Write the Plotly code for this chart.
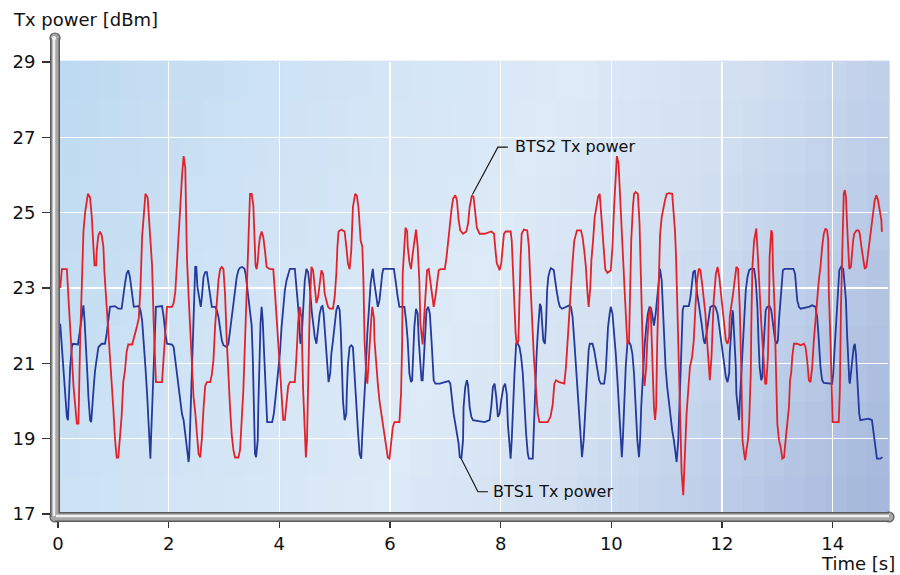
import plotly.graph_objects as go

# ---------------- data ----------------
time_bts2 = [0.04, 0.07, 0.16, 0.19, 0.24, 0.28, 0.34, 0.37, 0.40, 0.43, 0.46, 0.49, 0.54, 0.58, 0.61, 0.64, 0.66, 0.69, 0.70, 0.73,
             0.76, 0.79, 0.82, 0.84, 0.88, 0.91, 0.96, 1.00, 1.03, 1.06, 1.09, 1.12, 1.15, 1.18, 1.21, 1.24, 1.27, 1.34, 1.40, 1.43,
             1.46, 1.49, 1.52, 1.55, 1.58, 1.62, 1.65, 1.68, 1.70, 1.73, 1.76, 1.77, 1.88, 1.91, 1.94, 1.97, 2.06, 2.09, 2.12, 2.15,
             2.18, 2.21, 2.24, 2.27, 2.30, 2.31, 2.33, 2.36, 2.39, 2.42, 2.45, 2.48, 2.51, 2.54, 2.57, 2.60, 2.63, 2.66, 2.69, 2.75,
             2.78, 2.81, 2.84, 2.87, 2.90, 2.93, 2.96, 2.99, 3.02, 3.05, 3.08, 3.11, 3.14, 3.17, 3.20, 3.26, 3.29, 3.32, 3.35, 3.38,
             3.41, 3.44, 3.47, 3.50, 3.53, 3.55, 3.57, 3.59, 3.61, 3.63, 3.65, 3.68, 3.71, 3.74, 3.77, 3.83, 3.89, 3.92, 3.95, 3.98,
             4.01, 4.04, 4.07, 4.10, 4.13, 4.16, 4.19, 4.28, 4.31, 4.34, 4.37, 4.40, 4.43, 4.46, 4.48, 4.50, 4.52, 4.55, 4.58, 4.61,
             4.64, 4.67, 4.70, 4.73, 4.76, 4.79, 4.82, 4.85, 4.88, 4.91, 4.97, 5.00, 5.03, 5.05, 5.07, 5.12, 5.18, 5.21, 5.24, 5.27,
             5.30, 5.33, 5.37, 5.40, 5.43, 5.47, 5.50, 5.52, 5.54, 5.57, 5.59, 5.60, 5.63, 5.66, 5.68, 5.71, 5.72, 5.75, 5.78, 5.81,
             5.84, 5.87, 5.90, 5.93, 5.96, 5.99, 6.02, 6.05, 6.08, 6.17, 6.20, 6.22, 6.23, 6.25, 6.28, 6.31, 6.32, 6.35, 6.38, 6.41,
             6.44, 6.47, 6.50, 6.53, 6.55, 6.58, 6.59, 6.61, 6.64, 6.67, 6.70, 6.73, 6.76, 6.79, 6.82, 6.85, 6.88, 6.91, 6.99, 7.02,
             7.05, 7.08, 7.11, 7.14, 7.18, 7.21, 7.24, 7.27, 7.32, 7.38, 7.41, 7.44, 7.48, 7.51, 7.54, 7.57, 7.62, 7.71, 7.83, 7.88,
             7.90, 7.93, 7.96, 7.98, 8.01, 8.04, 8.06, 8.09, 8.18, 8.20, 8.22, 8.25, 8.27, 8.29, 8.32, 8.34, 8.36, 8.38, 8.42, 8.48,
             8.51, 8.53, 8.56, 8.60, 8.64, 8.67, 8.70, 8.85, 8.90, 8.94, 8.97, 9.00, 9.06, 9.15, 9.18, 9.21, 9.24, 9.27, 9.30, 9.33,
             9.38, 9.45, 9.48, 9.51, 9.54, 9.57, 9.59, 9.62, 9.64, 9.67, 9.70, 9.73, 9.76, 9.79, 9.81, 9.84, 9.87, 9.89, 9.93, 9.99,
             10.02, 10.05, 10.08, 10.10, 10.13, 10.15, 10.18, 10.22, 10.24, 10.27, 10.29, 10.32, 10.34, 10.36, 10.39, 10.41, 10.44,
             10.48, 10.51, 10.53, 10.55, 10.58, 10.60, 10.63, 10.65, 10.68, 10.71, 10.73, 10.75, 10.77, 10.79, 10.81, 10.83, 10.86,
             10.88, 10.91, 10.94, 10.97, 11.00, 11.04, 11.10, 11.12, 11.15, 11.17, 11.19, 11.22, 11.25, 11.27, 11.30, 11.31, 11.34,
             11.36, 11.39, 11.42, 11.46, 11.49, 11.52, 11.55, 11.58, 11.61, 11.64, 11.67, 11.70, 11.73, 11.76, 11.78, 11.81, 11.83,
             11.85, 11.89, 11.92, 11.95, 11.98, 12.01, 12.04, 12.07, 12.10, 12.13, 12.14, 12.17, 12.20, 12.23, 12.26, 12.29, 12.32,
             12.35, 12.37, 12.40, 12.42, 12.44, 12.47, 12.49, 12.52, 12.53, 12.55, 12.58, 12.61, 12.62, 12.65, 12.68, 12.71, 12.73,
             12.76, 12.78, 12.80, 12.83, 12.85, 12.86, 12.89, 12.91, 12.92, 12.95, 12.97, 13.00, 13.03, 13.06, 13.09, 13.12, 13.15,
             13.18, 13.21, 13.23, 13.25, 13.27, 13.30, 13.36, 13.42, 13.48, 13.51, 13.54, 13.57, 13.60, 13.63, 13.66, 13.69, 13.72,
             13.75, 13.78, 13.81, 13.84, 13.87, 13.90, 13.92, 13.93, 13.96, 13.98, 14.00, 14.11, 14.13, 14.15, 14.18, 14.20, 14.22,
             14.24, 14.26, 14.28, 14.30, 14.33, 14.35, 14.37, 14.39, 14.43, 14.47, 14.49, 14.52, 14.55, 14.58, 14.61, 14.64, 14.67,
             14.70, 14.73, 14.76, 14.79, 14.82, 14.85, 14.88, 14.89]
power_bts2 = [23.0, 23.5, 23.5, 22.7, 21.2, 20.4, 19.4, 19.4, 21.6, 23.4, 24.5, 25.0, 25.5, 25.4, 24.9, 24.1, 23.6, 23.6, 24.0, 24.4,
              24.5, 24.4, 24.1, 23.4, 22.5, 21.8, 20.9, 19.8, 19.0, 18.5, 18.5, 19.0, 19.6, 20.5, 20.8, 21.3, 21.5, 21.5, 21.8, 22.0,
              22.2, 23.0, 24.35, 24.9, 25.5, 25.4, 24.8, 24.0, 23.6, 22.05, 20.7, 20.5, 20.5, 21.2, 21.6, 22.5, 22.5, 22.6, 22.9, 23.56,
              24.5, 25.15, 25.95, 26.5, 26.2, 25.3, 23.8, 22.8, 21.8, 20.7, 20.1, 19.7, 19.1, 18.6, 18.5, 19.0, 19.8, 20.4, 20.5, 20.5,
              20.7, 21.1, 22.0, 22.7, 23.2, 23.5, 23.56, 23.5, 22.8, 21.6, 20.5, 19.8, 19.1, 18.7, 18.5, 18.5, 18.7, 19.4, 20.3, 21.6,
              22.9, 24.7, 25.5, 25.5, 25.2, 24.4, 23.6, 23.5, 23.7, 24.1, 24.35, 24.5, 24.35, 24.0, 23.56, 23.5, 23.5, 22.9, 22.2, 21.4,
              20.7, 20.1, 19.5, 19.5, 20.0, 20.4, 20.5, 20.5, 21.2, 22.1, 22.5, 22.2, 20.3, 18.96, 18.5, 18.96, 20.7, 22.5, 23.56, 23.47,
              23.03, 22.6, 22.76, 23.2, 23.47, 23.38, 22.85, 22.67, 22.5, 22.45, 22.45, 22.76, 23.38, 24.1, 24.5, 24.55, 24.5, 24.1, 23.65, 23.5,
              24.0, 25.15, 25.5, 25.46, 25.15, 24.26, 24.1, 23.2, 21.6, 20.7, 20.46, 20.7, 21.6, 22.15, 22.5, 22.2, 21.6, 20.9, 20.46, 20.0,
              19.67, 19.4, 19.13, 18.78, 18.5, 18.47, 18.96, 19.3, 19.44, 19.44, 20.2, 21.6, 23.4, 23.8, 24.6, 24.5, 24.1, 23.7, 23.5, 23.9,
              24.3, 24.55, 24.1, 23.2, 22.05, 21.6, 21.5, 22.05, 22.9, 23.47, 23.5, 23.2, 22.85, 22.5, 22.76, 23.1, 23.47, 23.5, 23.5, 23.8,
              24.26, 24.6, 25.06, 25.37, 25.46, 25.33, 24.8, 24.53, 24.44, 24.5, 24.7, 25.15, 25.46, 25.42, 24.9, 24.6, 24.44, 24.44, 24.5, 24.44,
              24.1, 23.65, 23.56, 23.47, 23.65, 24.1, 24.44, 24.5, 24.5, 24.26, 23.38, 22.5, 21.8, 21.5, 21.6, 22.9, 23.8, 24.44, 24.55, 24.53,
              24.1, 23.38, 22.32, 21.17, 20.29, 19.67, 19.44, 19.44, 19.58, 19.9, 20.46, 20.55, 20.5, 20.46, 20.9, 21.6, 22.5, 23.2, 23.7, 24.26,
              24.53, 24.53, 24.35, 24.0, 23.56, 22.85, 22.5, 23.03, 23.74, 24.26, 24.88, 25.15, 25.42, 25.5, 25.15, 24.44, 23.9, 23.5, 23.4, 23.47,
              24.09, 25.15, 26.2, 26.5, 26.3, 25.6, 24.7, 23.56, 22.94, 22.05, 21.5, 21.6, 22.94, 24.26, 25.15, 25.5, 25.55,
              25.5, 24.7, 23.38, 22.05, 20.7, 20.4, 20.9, 21.6, 22.3, 22.5, 21.6, 20.55, 19.84, 19.5, 19.84, 21.6, 23.38,
              24.4, 24.88, 25.15, 25.33, 25.5, 25.52, 25.5, 25.15, 24.53, 23.82, 22.67, 21.17, 19.4, 18.1, 17.5, 17.98, 18.96,
              19.67, 20.29, 20.9, 21.17, 21.61, 22.5, 23.21, 23.51, 23.47, 23.12, 22.67, 22.32, 21.61, 20.9, 20.55, 21.17, 21.96,
              22.67, 23.38, 23.56, 23.3, 22.85, 22.5, 22.05, 21.61, 21.52, 21.7, 22.23, 22.5, 22.85, 23.21, 23.56, 23.51, 22.5,
              20.73, 18.96, 18.6, 18.43, 18.69, 18.96, 19.4, 20.73, 22.05, 23.56, 24.26, 24.53, 24.58, 23.8, 22.67, 22.05, 21.61,
              20.9, 20.46, 20.46, 21.17, 22.5, 23.82, 24.53, 24.44, 23.56, 22.5, 21.17, 19.4, 18.96, 18.78, 18.47, 18.5, 18.96,
              19.4, 19.84, 20.55, 20.73, 21.17, 21.52, 21.52, 21.48, 21.52, 21.43, 21.08, 20.55, 20.5, 20.9, 21.61, 22.05, 22.67,
              23.21, 23.56, 24.09, 24.44, 24.58, 24.53, 24.26, 22.94, 21.61, 20.29, 19.44, 19.44, 20.29, 22.5, 24.7, 25.5, 25.6,
              25.42, 24.7, 23.82, 23.51, 23.56, 24.0, 24.26, 24.44, 24.53, 24.53, 24.44, 24.09, 23.74, 23.51, 23.56, 23.91, 24.26,
              24.62, 24.97, 25.33, 25.46, 25.33, 25.06, 24.8, 24.49]

time_bts1 = [0.04, 0.07, 0.10, 0.13, 0.16, 0.18, 0.20, 0.22, 0.25, 0.27, 0.36, 0.39, 0.42, 0.45, 0.46, 0.48, 0.51, 0.53, 0.55, 0.58,
             0.60, 0.63, 0.65, 0.67, 0.70, 0.73, 0.79, 0.85, 0.88, 0.91, 0.94, 1.03, 1.09, 1.15, 1.18, 1.21, 1.24, 1.27, 1.30, 1.34,
             1.37, 1.46, 1.49, 1.52, 1.55, 1.58, 1.61, 1.64, 1.65, 1.67, 1.68, 1.71, 1.74, 1.77, 1.88, 1.91, 1.94, 1.97, 2.06, 2.09,
             2.12, 2.15, 2.18, 2.21, 2.24, 2.27, 2.30, 2.33, 2.36, 2.37, 2.39, 2.42, 2.44, 2.46, 2.48, 2.50, 2.52, 2.55, 2.58, 2.60,
             2.63, 2.66, 2.69, 2.72, 2.75, 2.78, 2.84, 2.87, 2.90, 2.93, 2.96, 2.99, 3.05, 3.08, 3.11, 3.14, 3.17, 3.20, 3.23, 3.26,
             3.29, 3.33, 3.37, 3.39, 3.42, 3.45, 3.48, 3.50, 3.52, 3.54, 3.56, 3.58, 3.61, 3.62, 3.64, 3.66, 3.68, 3.70, 3.72, 3.74,
             3.76, 3.78, 3.87, 3.90, 3.92, 3.95, 3.98, 4.01, 4.04, 4.07, 4.10, 4.13, 4.16, 4.19, 4.28, 4.30, 4.32, 4.34, 4.36, 4.38,
             4.40, 4.43, 4.46, 4.49, 4.52, 4.55, 4.57, 4.59, 4.62, 4.64, 4.67, 4.70, 4.73, 4.76, 4.78, 4.80, 4.82, 4.85, 4.87, 4.89,
             4.92, 4.94, 4.97, 5.00, 5.03, 5.06, 5.09, 5.11, 5.13, 5.15, 5.18, 5.21, 5.22, 5.24, 5.27, 5.30, 5.33, 5.35, 5.37, 5.40,
             5.42, 5.45, 5.48, 5.50, 5.53, 5.54, 5.56, 5.59, 5.62, 5.65, 5.68, 5.69, 5.71, 5.74, 5.77, 5.78, 5.81, 5.83, 5.86, 5.88,
             6.07, 6.10, 6.12, 6.14, 6.17, 6.26, 6.29, 6.32, 6.35, 6.38, 6.40, 6.42, 6.44, 6.47, 6.50, 6.52, 6.55, 6.57, 6.59, 6.61,
             6.64, 6.66, 6.69, 6.72, 6.75, 6.78, 6.79, 6.82, 6.90, 6.99, 7.06, 7.09, 7.12, 7.15, 7.18, 7.21, 7.24, 7.26, 7.29, 7.32,
             7.33, 7.36, 7.39, 7.41, 7.44, 7.47, 7.50, 7.71, 7.80, 7.83, 7.86, 7.89, 7.92, 7.95, 7.98, 8.01, 8.05, 8.08, 8.11, 8.13,
             8.16, 8.18, 8.20, 8.22, 8.25, 8.28, 8.31, 8.34, 8.37, 8.40, 8.43, 8.46, 8.49, 8.51, 8.58, 8.61, 8.63, 8.65, 8.67, 8.69,
             8.71, 8.73, 8.75, 8.77, 8.80, 8.82, 8.84, 8.86, 8.89, 8.91, 8.96, 8.98, 9.01, 9.04, 9.07, 9.11, 9.18, 9.24, 9.27, 9.30,
             9.33, 9.36, 9.39, 9.42, 9.45, 9.47, 9.50, 9.52, 9.55, 9.57, 9.59, 9.61, 9.66, 9.69, 9.72, 9.75, 9.78, 9.81, 9.87, 9.90,
             9.92, 9.94, 9.97, 9.99, 10.02, 10.05, 10.08, 10.11, 10.14, 10.17, 10.19, 10.21, 10.23, 10.26, 10.29, 10.32, 10.35,
             10.38, 10.41, 10.44, 10.47, 10.50, 10.52, 10.54, 10.57, 10.60, 10.63, 10.66, 10.69, 10.72, 10.75, 10.77, 10.80, 10.83,
             10.86, 10.88, 10.91, 10.93, 10.95, 10.98, 11.01, 11.04, 11.07, 11.10, 11.13, 11.16, 11.18, 11.21, 11.23, 11.25, 11.27,
             11.29, 11.31, 11.40, 11.43, 11.46, 11.48, 11.51, 11.52, 11.55, 11.58, 11.61, 11.64, 11.67, 11.69, 11.72, 11.75, 11.77,
             11.79, 11.85, 11.88, 11.92, 11.95, 11.98, 12.01, 12.04, 12.07, 12.10, 12.13, 12.14, 12.17, 12.19, 12.20, 12.23, 12.25,
             12.26, 12.29, 12.31, 12.32, 12.35, 12.37, 12.40, 12.43, 12.46, 12.49, 12.52, 12.58, 12.61, 12.64, 12.66, 12.68, 12.71,
             12.73, 12.74, 12.77, 12.79, 12.82, 12.86, 12.89, 12.91, 12.94, 12.96, 12.99, 13.01, 13.03, 13.06, 13.08, 13.10, 13.13,
             13.29, 13.32, 13.34, 13.36, 13.39, 13.42, 13.57, 13.63, 13.69, 13.72, 13.75, 13.78, 13.81, 13.84, 13.99, 14.01, 14.03,
             14.06, 14.08, 14.10, 14.12, 14.15, 14.19, 14.21, 14.24, 14.26, 14.28, 14.30, 14.31, 14.33, 14.36, 14.38, 14.40, 14.42,
             14.44, 14.46, 14.48, 14.50, 14.65, 14.71, 14.74, 14.77, 14.80, 14.86, 14.90]
power_bts1 = [22.05, 21.43, 20.90, 20.19, 19.58, 19.49, 20.28, 20.90, 21.43, 21.52, 21.50, 21.79, 22.14, 22.5, 22.54, 22.14, 21.43, 20.73, 20.11, 19.49,
              19.44, 19.93, 20.46, 20.81, 21.17, 21.43, 21.52, 21.52, 21.79, 22.14, 22.5, 22.52, 22.45, 22.45, 22.85, 23.11, 23.38, 23.47, 23.29, 22.85,
              22.5, 22.52, 22.41, 22.14, 21.61, 20.90, 20.19, 19.13, 19.04, 18.47, 18.96, 20.19, 21.43, 22.5, 22.52, 22.23, 21.79, 21.52, 21.50, 21.43,
              21.08, 20.73, 20.28, 19.93, 19.66, 19.49, 19.13, 18.78, 18.38, 18.51, 19.40, 20.73, 22.05, 22.94, 23.56, 23.56, 23.03, 22.76, 22.5, 22.76,
              23.29, 23.42, 23.42, 23.11, 22.76, 22.5, 22.5, 22.41, 22.23, 21.96, 21.61, 21.48, 21.43, 21.52, 21.88, 22.32, 22.67, 23.03, 23.29, 23.47,
              23.54, 23.56, 23.51, 23.38, 23.03, 22.67, 22.3, 22.0, 21.17, 19.84, 18.60, 18.51, 18.96, 19.84, 21.17, 22.05, 22.5, 22.14, 21.43, 20.73,
              20.02, 19.44, 19.44, 19.66, 19.93, 20.37, 20.73, 21.26, 21.96, 22.5, 22.94, 23.20, 23.38, 23.51, 23.51, 23.20, 22.94, 22.5, 22.05, 21.52,
              21.61, 22.5, 23.20, 23.51, 23.42, 23.03, 22.5, 22.32, 21.96, 21.70, 21.52, 21.96, 22.32, 22.5, 22.52, 22.32, 21.88, 21.26, 20.73, 20.50,
              20.73, 21.26, 21.61, 22.05, 22.41, 22.54, 22.41, 21.88, 20.73, 20.02, 19.49, 19.66, 20.28, 20.99, 21.43, 21.48, 21.43, 20.90, 20.46, 19.84,
              19.22, 18.60, 18.47, 19.13, 19.84, 20.28, 20.73, 21.79, 22.5, 23.11, 23.42, 23.51, 23.20, 22.85, 22.58, 22.5, 22.67, 23.03, 23.38, 23.51,
              23.51, 23.20, 22.94, 22.76, 22.5, 22.5, 22.14, 21.61, 20.73, 20.50, 20.55, 21.26, 21.96, 22.45, 22.32, 21.61, 20.90, 20.55, 20.55, 21.17,
              21.79, 22.41, 22.5, 22.32, 21.61, 20.90, 20.55, 20.46, 20.46, 20.50, 20.53, 20.46, 20.02, 19.66, 19.40, 19.13, 18.87, 18.51, 18.47, 18.96,
              19.84, 20.37, 20.55, 20.42, 19.84, 19.58, 19.49, 19.44, 19.49, 19.84, 20.37, 20.46, 20.11, 19.58, 19.66, 20.02, 20.37, 20.46, 20.19, 19.40,
              18.69, 18.47, 18.96, 19.84, 20.73, 21.52, 21.52, 21.43, 21.17, 20.73, 19.84, 19.13, 18.60, 18.47, 18.47, 19.84, 20.73, 21.26, 21.79, 22.32,
              22.58, 22.5, 21.96, 21.61, 21.52, 22.05, 22.94, 23.29, 23.47, 23.53, 23.47, 23.20, 22.94, 22.67, 22.5, 22.45, 22.5, 22.54, 22.5, 22.23,
              21.61, 20.90, 20.28, 19.58, 18.96, 18.51, 18.96, 19.58, 20.28, 20.90, 21.35, 21.52, 21.52, 21.35, 21.08, 20.73, 20.55, 20.46, 20.46, 20.81,
              21.43, 21.96, 22.32, 22.5, 22.32, 21.88, 21.26, 20.55, 19.66, 18.96, 18.51, 19.04, 20.02, 20.90, 21.52, 21.57, 21.48,
              21.26, 20.73, 19.84, 18.96, 18.51, 18.96, 19.84, 20.73, 21.43, 21.96, 22.32, 22.5, 22.45, 22.2, 22.0, 22.3, 22.76,
              23.38, 23.51, 23.20, 22.5, 21.61, 20.90, 20.37, 19.93, 19.58, 19.22, 18.96, 18.60, 18.38, 18.96, 19.84, 21.17, 21.88,
              22.41, 22.52, 22.52, 22.76, 23.20, 23.42, 23.47, 23.29, 22.85, 22.58, 22.32, 21.96, 21.61, 21.52, 21.79, 22.14, 22.41,
              22.5, 22.54, 22.5, 22.32, 21.96, 21.61, 21.26, 20.90, 20.64, 20.50, 20.73, 21.26, 22.05, 22.41, 22.32, 21.61, 20.90,
              20.19, 19.84, 19.49, 19.93, 20.73, 21.61, 22.23, 22.94, 23.29, 23.47, 23.51, 23.51, 23.20, 22.5, 21.61, 20.90, 20.55,
              20.64, 21.17, 21.88, 22.41, 22.5, 22.52, 22.41, 22.14, 21.88, 21.61, 21.52, 21.61, 22.14, 22.76, 23.20, 23.47, 23.51,
              23.51, 23.38, 23.03, 22.67, 22.5, 22.45, 22.5, 22.54, 22.5, 22.23, 21.61, 20.90, 20.55, 20.48, 20.46, 20.73, 21.26,
              21.96, 22.67, 23.20, 23.47, 23.56, 23.51, 23.20, 22.67, 21.79, 20.90, 20.55, 20.46, 20.73, 21.17, 21.43, 21.52, 21.26,
              20.73, 20.19, 19.66, 19.49, 19.53, 19.49, 19.13, 18.78, 18.47, 18.47, 18.51]

x_tick_vals = [0, 2, 4, 6, 8, 10, 12, 14]
y_tick_vals = [17, 19, 21, 23, 25, 27, 29]
x_title = "Time [s]"
y_title = "Tx power [dBm]"
label_bts1 = "BTS1 Tx power"
label_bts2 = "BTS2 Tx power"

# ---------------- figure ----------------
FONT = "DejaVu Sans, Liberation Sans, Arial, sans-serif"
RED = "#e0232b"
BLUE = "#24399b"

fig = go.Figure()
fig.add_trace(go.Scatter(x=time_bts1, y=power_bts1, mode="lines", name=label_bts1,
                         line=dict(color=BLUE, width=1.8), hoverinfo="skip", showlegend=False))
fig.add_trace(go.Scatter(x=time_bts2, y=power_bts2, mode="lines", name=label_bts2,
                         line=dict(color=RED, width=1.8), hoverinfo="skip", showlegend=False))

# background gradient (diagonal, light blue -> lighter -> darker blue-grey)
bg_stops = [(0.0, (189, 217, 240)), (0.25, (207, 227, 245)), (0.5, (221, 234, 247)),
            (0.68, (209, 223, 241)), (0.85, (186, 203, 231)), (1.0, (163, 181, 218))]


def bg_color(t):
    for (t0, c0), (t1, c1) in zip(bg_stops[:-1], bg_stops[1:]):
        if t <= t1:
            f = (t - t0) / (t1 - t0) if t1 > t0 else 0
            return "rgb(%d,%d,%d)" % tuple(round(a + (b - a) * f) for a, b in zip(c0, c1))
    return "rgb(%d,%d,%d)" % bg_stops[-1][1]


NX, NY = 40, 12
shapes = []
for i in range(NX):
    for j in range(NY):
        fx = (i + 0.5) / NX
        fy = (j + 0.5) / NY
        t = 0.8 * fx + 0.2 * (1 - fy)
        shapes.append(dict(type="rect", xref="paper", yref="paper", layer="below",
                           x0=i / NX, x1=(i + 1) / NX + 0.002, y0=j / NY, y1=(j + 1) / NY + 0.003,
                           fillcolor=bg_color(t), line=dict(width=0)))


# 3-D looking grey tubes for the axes (pixel sized, anchored at the plot corner)
def vline(x, y0, y1, w, c):
    return dict(type="line", xref="paper", yref="paper", xsizemode="pixel", ysizemode="pixel",
                xanchor=0, yanchor=0, x0=x, x1=x, y0=y0, y1=y1, line=dict(color=c, width=w), layer="above")


def hline(y, x0, x1, w, c):
    return dict(type="line", xref="paper", yref="paper", xsizemode="pixel", ysizemode="pixel",
                xanchor=0, yanchor=0, x0=x0, x1=x1, y0=y, y1=y, line=dict(color=c, width=w), layer="above")


def cap(cx, cy, r, fill, edge):
    return dict(type="circle", xref="paper", yref="paper", xsizemode="pixel", ysizemode="pixel",
                xanchor=0, yanchor=0, x0=cx - r, x1=cx + r, y0=cy - r, y1=cy + r,
                fillcolor=fill, line=dict(color=edge, width=1.2), layer="above")


TOP = 476
RIGHT = 831
shapes += [
    cap(-3, TOP, 5, "#a6a6a6", "#5c5c5c"),
    cap(RIGHT, -3, 5, "#a6a6a6", "#5c5c5c"),
    cap(-3, -3, 5, "#a6a6a6", "#5c5c5c"),
    vline(-3, -3, TOP, 10, "#5c5c5c"),
    hline(-3, -3, RIGHT, 10, "#5c5c5c"),
    vline(-3, -3, TOP, 7, "#a8a8a8"),
    hline(-3, -3, RIGHT, 7, "#a8a8a8"),
    vline(-4, -2, TOP, 2.5, "#f0f0f0"),
    hline(-2, -2, RIGHT, 2.5, "#f0f0f0"),
    cap(-4, TOP, 1.5, "#f0f0f0", "#f0f0f0"),
]

# leader lines of the two labels
shapes += [
    dict(type="path", xref="x", yref="y", layer="above",
         path="M 7.49,25.48 L 7.95,26.74 L 8.13,26.74", line=dict(color="#111111", width=1.1)),
    dict(type="path", xref="x", yref="y", layer="above",
         path="M 7.29,18.46 L 7.59,17.59 L 7.77,17.59", line=dict(color="#111111", width=1.1)),
]

annotations = [
    dict(text=label_bts2, x=8.22, y=26.77, xref="x", yref="y", xanchor="left", yanchor="middle",
         showarrow=False, font=dict(family=FONT, size=16, color="#111111")),
    dict(text=label_bts1, x=7.83, y=17.59, xref="x", yref="y", xanchor="left", yanchor="middle",
         showarrow=False, font=dict(family=FONT, size=16, color="#111111")),
    dict(text=y_title, x=-0.0565, y=1.093, xref="paper", yref="paper", xanchor="left", yanchor="middle",
         showarrow=False, font=dict(family=FONT, size=18, color="#111111")),
    dict(text=x_title, x=1.0105, y=-0.109, xref="paper", yref="paper", xanchor="right", yanchor="middle",
         showarrow=False, font=dict(family=FONT, size=18, color="#111111")),
]

fig.update_layout(
    width=900, height=575,
    margin=dict(l=56, r=12, t=62, b=61),
    paper_bgcolor="white",
    plot_bgcolor="rgba(0,0,0,0)",
    showlegend=False,
    shapes=shapes,
    annotations=annotations,
    font=dict(family=FONT, size=18, color="#111111"),
)
fig.update_xaxes(range=[0, 15], tickvals=x_tick_vals, ticktext=[str(v) for v in x_tick_vals],
                 showgrid=True, gridcolor="white", gridwidth=1.6, zeroline=False, showline=False,
                 ticks="outside", ticklen=13, tickwidth=1.3, tickcolor="#333333",
                 tickfont=dict(family=FONT, size=18, color="#111111"), fixedrange=True)
fig.update_yaxes(range=[17, 29], tickvals=y_tick_vals, ticktext=[str(v) for v in y_tick_vals],
                 showgrid=True, gridcolor="white", gridwidth=1.6, zeroline=False, showline=False,
                 ticks="outside", ticklen=15, tickwidth=1.3, tickcolor="#333333", ticklabelstandoff=3,
                 tickfont=dict(family=FONT, size=18, color="#111111"), fixedrange=True)

fig.write_html("out.html",
               config={"displayModeBar": False, "staticPlot": True},
               post_script="document.body.style.margin='0';document.body.style.padding='0';"
                           "document.body.style.overflow='hidden';")
